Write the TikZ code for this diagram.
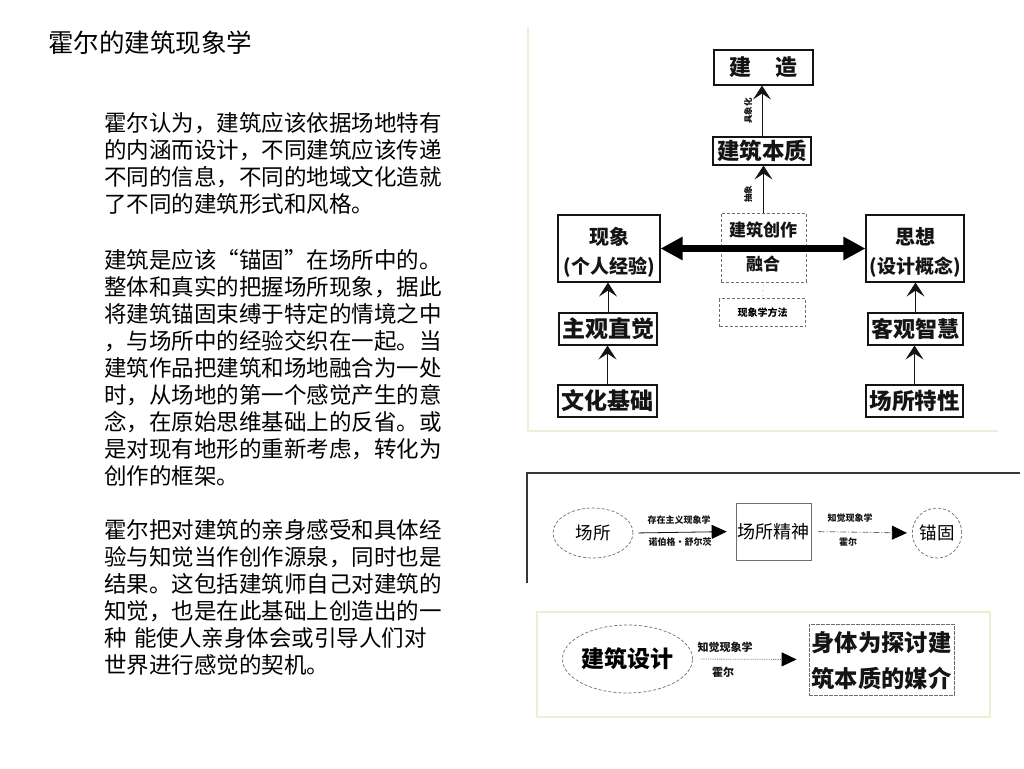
\documentclass[tikz,border=0pt]{standalone}
\usepackage{fontspec}
\setmainfont{Noto Sans CJK SC}
\usetikzlibrary{arrows.meta,shapes.geometric}
\definecolor{framecol}{RGB}{238,238,212}
\definecolor{scan}{RGB}{20,20,20}
\definecolor{dashgray}{RGB}{110,110,110}
\newcommand{\fs}[1]{\fontsize{#1}{#1}\selectfont}
\tikzset{
  bodytext/.style={anchor=base west, inner sep=0pt, text width=420pt, align=left, font=\fontsize{22.5}{27}\selectfont},
  solidbox/.style={draw=scan, line width=1.1pt, inner sep=0pt, text=scan},
  dashbox/.style={draw=dashgray, line width=0.8pt, dash pattern=on 3pt off 2pt, inner sep=0pt},
  lbl/.style={inner sep=0pt, text=scan},
  tinylbl/.style={inner sep=0pt, text=scan, font=\bfseries\fs{8.5}},
  barb/.style={draw=scan, line width=0.8pt, -{Stealth[length=14pt,width=18pt,inset=6pt]}},
  bigdouble/.style={draw=black, line width=7pt, {Triangle[length=22pt,width=22pt]}-{Triangle[length=22pt,width=22pt]}},
  dashell/.style={ellipse, draw=dashgray, line width=0.7pt, dash pattern=on 3pt off 2pt, inner sep=0pt},
  flatarr/.style={line width=0.8pt, -{Triangle[length=15pt,width=14pt,color=black]}},
}
\begin{document}
\begin{tikzpicture}[x=1pt,y=-1pt]
\useasboundingbox (0,0) rectangle (1024,768);
\fill[white] (0,0) rectangle (1024,768);

% ---------------- left column ----------------
\node[anchor=base west, inner sep=0pt, font=\fs{25.5}] (title) at (48,52.7) {霍尔的建筑现象学};

\node[bodytext] (p1) at (104,131.6) {霍尔认为，建筑应该依据场地特有\\的内涵而设计，不同建筑应该传递\\不同的信息，不同的地域文化造就\\了不同的建筑形式和风格。};

\node[bodytext] (p2) at (104,268.6) {建筑是应该“锚固”在场所中的。\\整体和真实的把握场所现象，据此\\将建筑锚固束缚于特定的情境之中\\，与场所中的经验交织在一起。当\\建筑作品把建筑和场地融合为一处\\时，从场地的第一个感觉产生的意\\念，在原始思维基础上的反省。或\\是对现有地形的重新考虑，转化为\\创作的框架。};

\node[bodytext] (p3) at (104,538.6) {霍尔把对建筑的亲身感受和具体经\\验与知觉当作创作源泉，同时也是\\结果。这包括建筑师自己对建筑的\\知觉，也是在此基础上创造出的一\\种 能使人亲身体会或引导人们对\\世界进行感觉的契机。};

% ---------------- top diagram ----------------
\draw[framecol, line width=1.5pt] (528,28) -- (528,431) -- (998,431);

\node[solidbox, minimum width=99pt, minimum height=35pt, font=\bfseries\fs{22}] (jz) at (763.5,67.5) {建\hspace{24pt}造};
\node[solidbox, minimum width=98pt, minimum height=28pt, font=\bfseries\fs{22.5}] (bz) at (762,151) {建筑本质};
\node[dashbox, minimum width=85pt, minimum height=69pt] (cz) at (763.5,247.5) {};
\node[lbl, font=\bfseries\fs{17}] (czt) at (763,230) {建筑创作};
\node[lbl, font=\bfseries\fs{17}] (rh) at (763,264) {融合};
\node[dashbox, minimum width=86pt, minimum height=28pt, font=\bfseries\fs{10}] (ff) at (762.5,312.5) {现象学方法};

\node[solidbox, minimum width=102pt, minimum height=67pt] (xx) at (609,248.5) {};
\node[lbl, font=\bfseries\fs{20}] (xxt) at (609,237) {现象};
\node[lbl, font=\bfseries\fs{19}] (xxs) at (609,267) {(个人经验)};
\node[solidbox, minimum width=98pt, minimum height=67pt] (sx) at (915,248.5) {};
\node[lbl, font=\bfseries\fs{20}] (sxt) at (915,237) {思想};
\node[lbl, font=\bfseries\fs{19}] (sxs) at (915,267) {(设计概念)};

\node[solidbox, minimum width=98pt, minimum height=32pt, font=\bfseries\fs{23}] (zg) at (608,329) {主观直觉};
\node[solidbox, minimum width=95pt, minimum height=32pt, font=\bfseries\fs{22}] (kg) at (915.5,329) {客观智慧};
\node[solidbox, minimum width=99pt, minimum height=32pt, font=\bfseries\fs{23}] (wh) at (607.5,401) {文化基础};
\node[solidbox, minimum width=97pt, minimum height=32pt, font=\bfseries\fs{22.5}] (cs) at (914.5,401) {场所特性};

\node[tinylbl, rotate=90] (jxh) at (748,111) {具象化};
\node[tinylbl, rotate=90] (cx) at (748,194) {抽象};

\draw[barb] (wh.north) -- (wh.north |- zg.south);
\draw[barb] (zg.north) -- (zg.north |- xx.south);
\draw[barb] (cs.north) -- (cs.north |- kg.south);
\draw[barb] (kg.north) -- (kg.north |- sx.south);
\draw[barb] (cz.north) -- (cz.north |- bz.south);
\draw[barb] (bz.north) -- (bz.north |- jz.south);
\draw[dashgray!70, line width=0.6pt, dotted] (cz.south) -- (ff.north);
\draw[bigdouble] (xx.east) -- (sx.west);

% ---------------- middle diagram ----------------
\draw[scan!85, line width=1.3pt] (1020,473) -- (527,473) -- (527,583);
\node[dashell, minimum width=80pt, minimum height=50pt, font=\fs{17.5}] (e1) at (593,533) {场所};
\node[draw=dashgray, line width=0.7pt, inner sep=0pt, minimum width=75pt, minimum height=57pt, font=\fs{18}] (b2) at (773.5,531.5) {场所精神};
\node[dashell, minimum width=48pt, minimum height=50pt, font=\fs{17.5}] (e2) at (937,533) {锚固};
\draw[flatarr, draw=scan, shorten <=5pt, shorten >=9pt] (e1.east) -- (b2.west);
\draw[flatarr, draw=dashgray, dash pattern=on 6pt off 2pt on 1pt off 2pt, shorten <=7pt, shorten >=5pt] (b2.east) -- (e2.west);
\node[tinylbl, font=\bfseries\fs{9}] (l1a) at (679,520) {存在主义现象学};
\node[tinylbl, font=\bfseries\fs{9}] (l1b) at (680,542) {诺伯格·舒尔茨};
\node[tinylbl, font=\bfseries\fs{9}] (l2a) at (850,518) {知觉现象学};
\node[tinylbl, font=\bfseries\fs{9}] (l2b) at (848,542) {霍尔};

% ---------------- bottom diagram ----------------
\draw[framecol, line width=1.5pt] (537,612) rectangle (990,717);
\node[dashell, minimum width=99pt, minimum height=68pt, font=\bfseries\fs{23}] (e3) at (627.5,659) {建筑设计};
\node[draw=dashgray, line width=0.8pt, dash pattern=on 4pt off 1pt, inner sep=0pt, minimum width=145pt, minimum height=71pt] (b3) at (881.5,659.5) {};
\node[lbl, font=\bfseries\fs{23.3}] (b3a) at (881.5,643) {身体为探讨建};
\node[lbl, font=\bfseries\fs{23.3}] (b3b) at (881.5,678) {筑本质的媒介};
\draw[flatarr, draw=dashgray, densely dotted, shorten <=8pt, shorten >=12pt] (e3.east) -- (b3.west);
\node[tinylbl, font=\bfseries\fs{11}] (l3a) at (725,647) {知觉现象学};
\node[tinylbl, font=\bfseries\fs{11}] (l3b) at (723,672) {霍尔};
\end{tikzpicture}
\end{document}
